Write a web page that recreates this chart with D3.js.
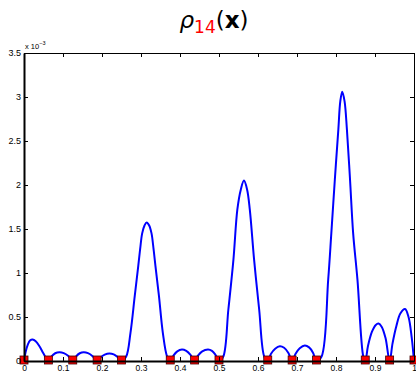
<!DOCTYPE html>
<html>
<head>
<meta charset="utf-8">
<script src="https://cdn.jsdelivr.net/npm/d3@7"></script>
<style>
  body { margin: 0; background: #fff; }
  svg { display: block; }
</style>
</head>
<body>
<div id="chart"></div>
<script>
// curve samples (values in units of 1e-3)
const rhoX = [
  0, 0.004, 0.01, 0.016, 0.022, 0.03, 0.04, 0.05, 0.0625,
  0.07, 0.08, 0.091, 0.102, 0.113, 0.125,
  0.133, 0.143, 0.153, 0.164, 0.176, 0.1875,
  0.196, 0.207, 0.219, 0.23, 0.24, 0.25,
  0.262, 0.273, 0.284, 0.293, 0.298, 0.303, 0.309, 0.3146, 0.321, 0.327, 0.332, 0.337, 0.346, 0.356, 0.367, 0.375,
  0.383, 0.393, 0.405, 0.416, 0.427, 0.4375,
  0.446, 0.457, 0.472, 0.482, 0.491, 0.5,
  0.511, 0.524, 0.537, 0.547, 0.556, 0.564, 0.572, 0.579, 0.59, 0.603, 0.616, 0.625,
  0.633, 0.644, 0.656, 0.667, 0.678, 0.6875,
  0.696, 0.707, 0.72, 0.731, 0.741, 0.75,
  0.763, 0.78, 0.788, 0.797, 0.806, 0.811, 0.816, 0.822, 0.828, 0.836, 0.844, 0.855, 0.87, 0.875,
  0.882, 0.892, 0.902, 0.909, 0.917, 0.927, 0.9375,
  0.945, 0.955, 0.965, 0.977, 0.986, 0.994, 1
]
const rhoY = [
  0, 0.1, 0.19, 0.235, 0.244, 0.225, 0.165, 0.085, 0,
  0.05, 0.088, 0.10, 0.09, 0.06, 0,
  0.05, 0.088, 0.10, 0.09, 0.055, 0,
  0.04, 0.072, 0.085, 0.075, 0.045, 0,
  0.05, 0.32, 0.74, 1.08, 1.28, 1.45, 1.54, 1.575, 1.54, 1.45, 1.28, 1.08, 0.74, 0.32, 0.05, 0,
  0.06, 0.11, 0.13, 0.115, 0.07, 0,
  0.06, 0.11, 0.13, 0.115, 0.07, 0,
  0.05, 0.585, 1.152, 1.72, 1.95, 2.05, 1.95, 1.72, 1.152, 0.585, 0.05, 0,
  0.08, 0.14, 0.168, 0.15, 0.09, 0,
  0.08, 0.145, 0.176, 0.155, 0.095, 0,
  0.05, 0.925, 1.45, 2.06, 2.63, 2.95, 3.06, 2.95, 2.63, 2.06, 1.45, 0.925, 0.05, 0,
  0.17, 0.33, 0.41, 0.425, 0.39, 0.26, 0,
  0.2, 0.4, 0.54, 0.59, 0.5, 0.27, 0
]
// red square markers (zeros)
const roots = [0, 0.0625, 0.125, 0.1875, 0.25, 0.375, 0.4375, 0.5, 0.625, 0.6875, 0.75, 0.875, 0.9375, 1]

const xTicks = [0, 0.1, 0.2, 0.3, 0.4, 0.5, 0.6, 0.7, 0.8, 0.9, 1]
const yTicks = [0, 0.5, 1, 1.5, 2, 2.5, 3, 3.5]

const W = 416, H = 373
const MARGIN = { TOP: 53, BOTTOM: 12, LEFT: 24, RIGHT: 2 }
const WIDTH = W - MARGIN.LEFT - MARGIN.RIGHT
const HEIGHT = H - MARGIN.TOP - MARGIN.BOTTOM

const svg = d3.select("#chart").append("svg")
  .attr("width", W)
  .attr("height", H)

// title
const title = svg.append("text")
  .attr("x", 214)
  .attr("y", 28)
  .attr("text-anchor", "middle")
  .attr("font-family", "DejaVu Sans")
  .attr("font-size", 23)
title.append("tspan").attr("font-style", "italic").text("ρ")
title.append("tspan").attr("fill", "#ff0000").attr("font-size", 17).attr("dy", 5).text("14")
title.append("tspan").attr("dy", -5).text("(")
title.append("tspan").attr("font-weight", "bold").text("x")
title.append("tspan").text(")")

const g = svg.append("g")
  .attr("transform", `translate(${MARGIN.LEFT}, ${MARGIN.TOP})`)

const x = d3.scaleLinear().domain([0, 1]).range([0, WIDTH])
const y = d3.scaleLinear().domain([0, 3.5]).range([HEIGHT, 0])

g.append("clipPath").attr("id", "clip")
  .append("rect").attr("width", WIDTH).attr("height", HEIGHT)

// curve
const line = d3.line()
  .x((d, i) => x(rhoX[i]))
  .y(d => y(d))
  .curve(d3.curveCatmullRom.alpha(0.5))

g.append("path")
  .datum(rhoY)
  .attr("clip-path", "url(#clip)")
  .attr("fill", "none")
  .attr("stroke", "#0000ff")
  .attr("stroke-width", 2)
  .attr("stroke-linejoin", "round")
  .attr("d", line)

// markers
g.selectAll("rect.root")
  .data(roots)
  .enter().append("rect")
  .attr("class", "root")
  .attr("x", d => x(d) - 4)
  .attr("y", y(0) - 5)
  .attr("width", 8)
  .attr("height", 8)
  .attr("fill", "#ff0000")
  .attr("stroke", "#400000")
  .attr("stroke-width", 0.8)

// axes (ticks on all sides, pointing inward)
const fontAxis = "Liberation Sans"
const xAxis = g.append("g")
  .attr("transform", `translate(0, ${HEIGHT})`)
  .call(d3.axisBottom(x).tickValues(xTicks).tickSizeInner(-4).tickSizeOuter(0)
    .tickFormat(d3.format("")))
xAxis.select(".domain").attr("stroke-width", 2)
xAxis.selectAll("text").attr("font-family", fontAxis).attr("font-size", 8.5).attr("y", 4).attr("dy", "0.71em")

const xTop = g.append("g")
  .call(d3.axisTop(x).tickValues(xTicks).tickSizeInner(-4).tickSizeOuter(0).tickFormat(""))

const yAxis = g.append("g")
  .call(d3.axisLeft(y).tickValues(yTicks).tickSizeInner(-4).tickSizeOuter(0)
    .tickFormat(d3.format("")))
yAxis.select(".domain").attr("stroke-width", 2)
yAxis.selectAll("text").attr("font-family", fontAxis).attr("font-size", 9).attr("x", -3)

const yRight = g.append("g")
  .attr("transform", `translate(${WIDTH}, 0)`)
  .call(d3.axisRight(y).tickValues(yTicks).tickSizeInner(-4).tickSizeOuter(0).tickFormat(""))

// exponent label
const expo = svg.append("text")
  .attr("x", MARGIN.LEFT + 1)
  .attr("y", MARGIN.TOP - 4)
  .attr("font-family", fontAxis)
  .attr("font-size", 7.5)
expo.append("tspan").text("x 10")
expo.append("tspan").attr("dy", -4).attr("font-size", 5.5).text("−3")
</script>
</body>
</html>
